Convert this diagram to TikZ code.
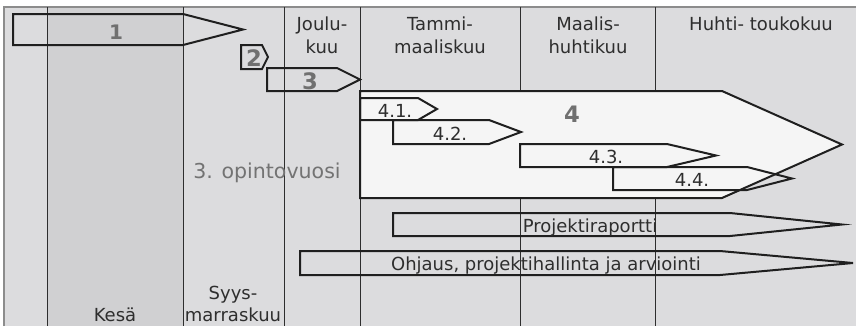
\documentclass[tikz,border=0pt]{standalone}
\usepackage{fontspec}
\setmainfont{DejaVu Sans}
\definecolor{bgcol}{HTML}{DCDCDE}
\definecolor{kesacol}{HTML}{D0D0D2}
\definecolor{boxfill}{HTML}{F5F5F5}
\definecolor{numcol}{HTML}{707070}
\definecolor{txtcol}{HTML}{2E2E2E}
% arrow-shaped phase bar: left x, top y, bottom y, end of straight part, tip x, style
\newcommand\phasebar[6]{%
  \draw[#6] (#1,#2) -- (#4,#2) -- (#5,{(#2+#3)/2}) -- (#4,#3) -- (#1,#3) -- cycle;}
\begin{document}
\begin{tikzpicture}[x=0.75pt,y=-0.75pt,
  gridline/.style={draw=black!82, line width=0.75pt},
  frameline/.style={draw=black!45, line width=1.2pt},
  phase/.style={draw=black!88, line width=1.5pt, line join=miter},
  lbl/.style={font=\fontsize{13.5}{15}\selectfont, text=txtcol, inner sep=0pt, anchor=base},
  num/.style={font=\bfseries\fontsize{15}{17}\selectfont, text=numcol, inner sep=0pt, anchor=base},
  bignum/.style={num, font=\bfseries\fontsize{17}{19}\selectfont}]
\useasboundingbox (0,0) rectangle (856,326);

% background and the summer column
\fill[bgcol] (4,7) rectangle (856,326);
\fill[kesacol] (47,7) rectangle (183,326);
\draw[frameline] (4,326) -- (4,7) -- (856,7);

% month column separators
\draw[gridline] (47,7) -- (47,326);
\draw[gridline] (183,7) -- (183,326);
\draw[gridline] (284,7) -- (284,326);
\draw[gridline] (360,7) -- (360,326);
\draw[gridline] (520,7) -- (520,326);
\draw[gridline] (655,7) -- (655,326);

% phase 4 with its sub-phases
\phasebar{360}{91}{198}{722}{842}{phase, fill=boxfill}
\phasebar{360}{98}{120}{418}{437}{phase}
\phasebar{393}{120}{144}{489}{521}{phase}
\phasebar{520}{144}{167}{667}{716}{phase}
\phasebar{613}{167}{190}{747}{792}{phase}

% phases 1-3
\phasebar{13}{14}{45}{183}{243}{phase}
\phasebar{241}{45}{69}{262}{268}{phase}
\phasebar{267}{68}{91}{337}{360}{phase}

% continuous tasks
\phasebar{393}{213}{236}{730}{842}{phase}
\phasebar{300}{251}{275}{720}{853}{phase}

% phase numbers
\node[num] (n1) at (116,39) {1};
\node[bignum] (n2) at (254,66) {2};
\node[bignum] (n3) at (310,89) {3};
\node[bignum] (n4) at (572,122) {4};

% sub-phase labels
\node[lbl] (t41) at (395,117) {4.1.};
\node[lbl] (t42) at (450,140) {4.2.};
\node[lbl] (t43) at (606,163) {4.3.};
\node[lbl] (t44) at (692,186) {4.4.};
\node[lbl] (tproj) at (590,232) {Projektiraportti};
\node[lbl] (tohj) at (546,270) {Ohjaus, projektihallinta ja arviointi};

% column headings
\node[lbl] (h1a) at (322,30) {Joulu-};
\node[lbl] (h1b) at (322,53) {kuu};
\node[lbl] (h2a) at (440,30) {Tammi-};
\node[lbl] (h2b) at (440,53) {maaliskuu};
\node[lbl] (h3a) at (588,30) {Maalis-};
\node[lbl] (h3b) at (588,53) {huhtikuu};
\node[lbl] (h4) at (761,30) {Huhti- toukokuu};
\node[lbl] (h5) at (115,321) {Kesä};
\node[lbl] (h6a) at (233,299) {Syys-};
\node[lbl] (h6b) at (233,321) {marraskuu};

% study year
\node[lbl, font=\fontsize{15.4}{17}\selectfont, text=black!55] (year) at (267,178) {3. opintovuosi};
\end{tikzpicture}
\end{document}
